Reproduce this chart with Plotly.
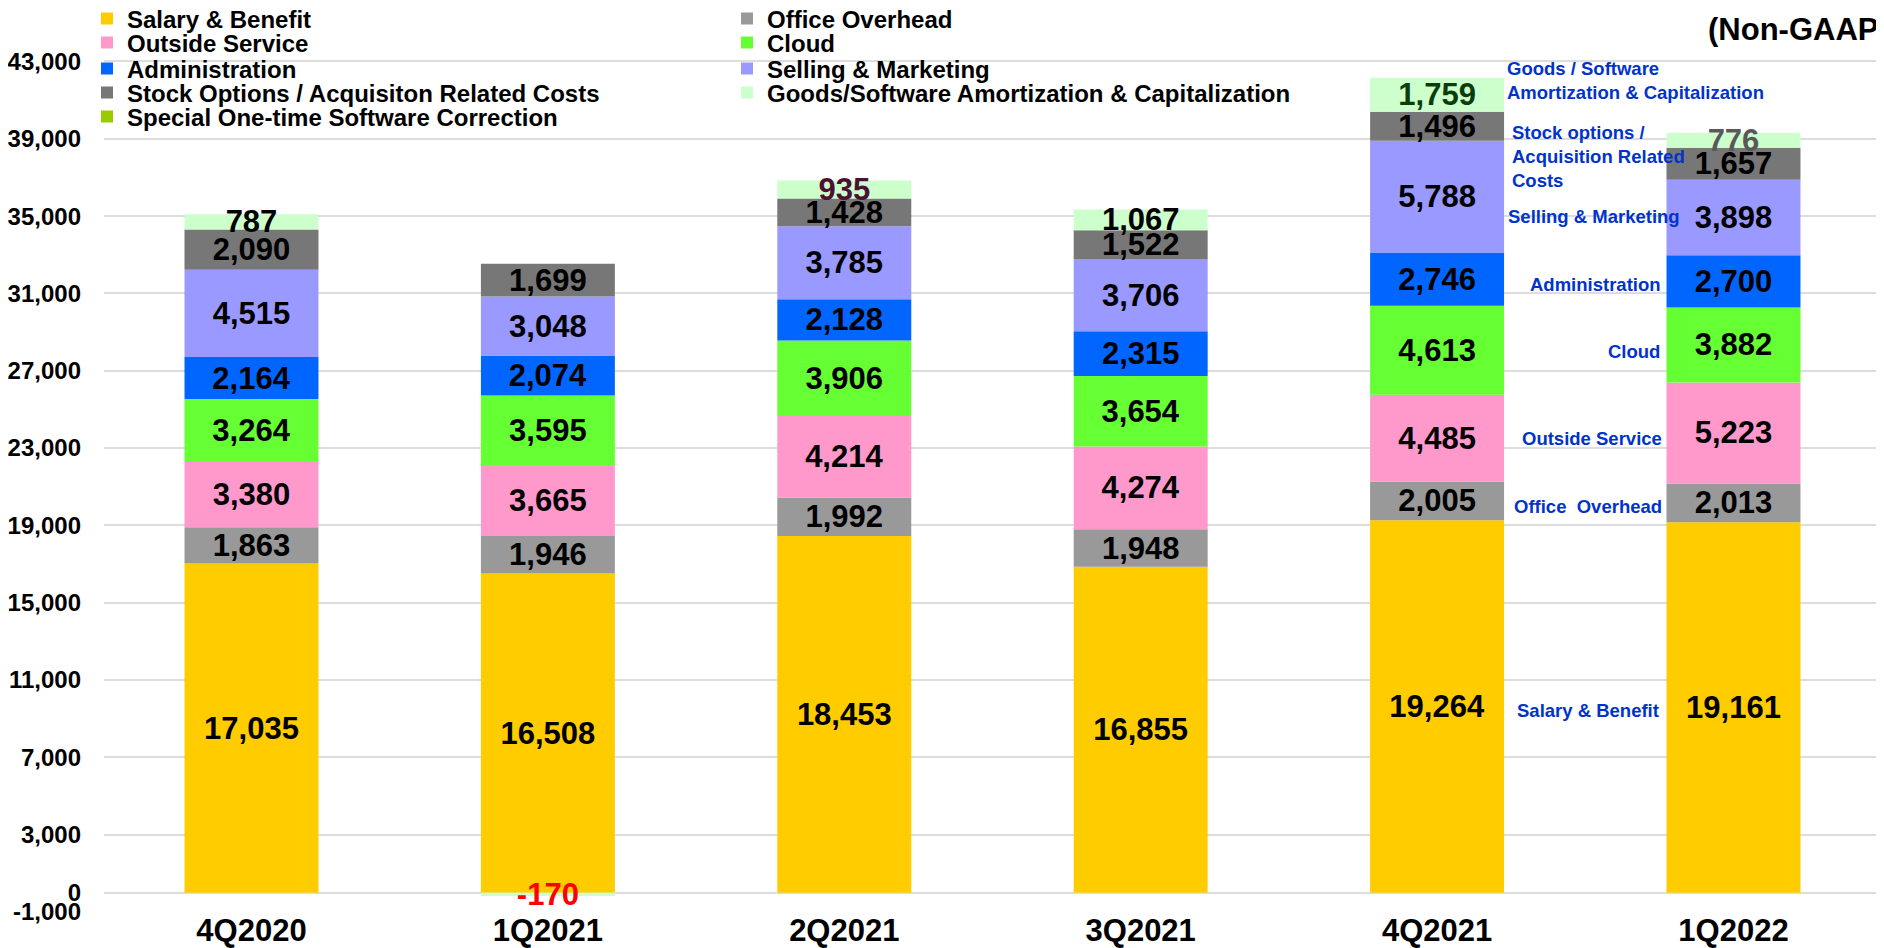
import plotly.graph_objects as go

# ---------------- data ----------------
categories = ["4Q2020", "1Q2021", "2Q2021", "3Q2021", "4Q2021", "1Q2022"]

salary_benefit = [17035, 16508, 18453, 16855, 19264, 19161]
office_overhead = [1863, 1946, 1992, 1948, 2005, 2013]
outside_service = [3380, 3665, 4214, 4274, 4485, 5223]
cloud = [3264, 3595, 3906, 3654, 4613, 3882]
administration = [2164, 2074, 2128, 2315, 2746, 2700]
selling_marketing = [4515, 3048, 3785, 3706, 5788, 3898]
stock_options = [2090, 1699, 1428, 1522, 1496, 1657]
goods_software = [787, -170, 935, 1067, 1759, 776]
special_correction = [None, None, None, None, None, None]

y_tick_values = [-1000, 0, 3000, 7000, 11000, 15000, 19000, 23000, 27000,
                 31000, 35000, 39000, 43000]

# ---------------- styling / layout constants ----------------
W, H = 1884, 948
PAGE_OFFSET = 8                 # default page margin around the figure
PLOT_L, PLOT_R, PLOT_T, PLOT_B = 96, 0, 0, 44
PLOT_W = W - PLOT_L - PLOT_R
PLOT_H = H - PLOT_T - PLOT_B
PX_PER_UNIT = 0.01933          # pixels per value unit
Y_MIN = -1000
Y_MAX = Y_MIN + PLOT_H / PX_PER_UNIT
X_RANGE = [-0.4976, 5.5348]
BAR_WIDTH = 0.452

FONT = "Liberation Sans, Arial, sans-serif"
BLUE = "#0033CC"


def paper_x(px):
    """screen px -> paper x"""
    return (px - PAGE_OFFSET - PLOT_L) / PLOT_W


def paper_y(py):
    """screen px -> paper y"""
    return 1 - (py - PAGE_OFFSET - PLOT_T) / PLOT_H


series = [
    ("Salary & Benefit", salary_benefit, "#FFCC00", "#000000"),
    ("Office Overhead", office_overhead, "#999999", "#000000"),
    ("Outside Service", outside_service, "#FF99CC", "#000000"),
    ("Cloud", cloud, "#66FF33", "#000000"),
    ("Administration", administration, "#0066FF", "#000000"),
    ("Selling & Marketing", selling_marketing, "#9999FF", "#000000"),
    ("Stock Options / Acquisiton Related Costs", stock_options, "#777777", "#000000"),
    ("Goods/Software Amortization & Capitalization", goods_software, "#CCFFCC",
     ["#000000", "#FF0000", "#4D1035", "#000000", "#0B3D0B", "#595959"]),
    ("Special One-time Software Correction", special_correction, "#99CC00", "#000000"),
]

# legend placement (screen pixel position of each legend item: left x, center y)
legend_pos = [
    (87, 19), (727, 19),
    (87, 43), (727, 43),
    (87, 69), (727, 69),
    (87, 93), (727, 93),
    (87, 117),
]

fig = go.Figure()
layout_legends = {}
for i, (name, vals, color, tcolor) in enumerate(series):
    lname = "legend" if i == 0 else f"legend{i + 1}"
    text = [("" if v is None else f"{v:,}") for v in vals]
    fig.add_trace(go.Bar(
        x=categories,
        y=vals,
        name=name,
        legend=lname,
        width=BAR_WIDTH,
        marker=dict(color=color, line=dict(width=0)),
        text=text,
        textposition="inside",
        insidetextanchor="middle",
        textangle=0,
        textfont=dict(family=FONT, size=31, color=tcolor, weight="bold"),
        hoverinfo="x+y+name",
    ))
    lx, ly = legend_pos[i]
    layout_legends[lname] = dict(
        xref="container", yref="container",
        x=(lx - PAGE_OFFSET) / W, y=1 - (ly - PAGE_OFFSET) / H,
        xanchor="left", yanchor="middle",
        bgcolor="rgba(0,0,0,0)",
        borderwidth=0,
        font=dict(family=FONT, size=24, color="#000000", weight="bold"),
        itemclick=False, itemdoubleclick=False,
    )

# right side series labels (screen px)
side_labels = [
    ("Goods / Software<br>Amortization & Capitalization", 1505, 80.5, "left"),
    ("Stock options /<br>Acquisition Related<br>Costs", 1510, 157, "left"),
    ("Selling & Marketing", 1506, 217, "left"),
    ("Administration", 1663, 285, "right"),
    ("Cloud", 1662, 351, "right"),
    ("Outside Service", 1664, 438, "right"),
    ("Office  Overhead", 1664, 506, "right"),
    ("Salary & Benefit", 1661, 710, "right"),
]
annotations = []
for txt, px, py, anchor in side_labels:
    annotations.append(dict(
        text=txt, xref="paper", yref="paper",
        x=paper_x(px), y=paper_y(py),
        xanchor=anchor, yanchor="middle", align="left",
        showarrow=False,
        font=dict(family=FONT, size=18.5, color=BLUE, weight="bold"),
    ))

annotations.append(dict(
    text="(Non-GAAP)", xref="paper", yref="paper",
    x=paper_x(1706), y=paper_y(30),
    xanchor="left", yanchor="middle", showarrow=False,
    font=dict(family=FONT, size=31, color="#000000", weight="bold"),
))

fig.update_layout(
    width=W, height=H,
    barmode="relative",
    plot_bgcolor="white",
    paper_bgcolor="white",
    margin=dict(l=PLOT_L, r=PLOT_R, t=PLOT_T, b=PLOT_B, pad=0, autoexpand=False),
    font=dict(family=FONT, color="#000000"),
    showlegend=True,
    uniformtext=dict(minsize=31, mode="show"),
    annotations=annotations,
    **layout_legends,
)

fig.update_xaxes(
    type="category",
    range=X_RANGE,
    showgrid=False,
    showline=False,
    zeroline=False,
    ticks="",
    tickangle=0,
    ticklabelstandoff=-3,
    tickfont=dict(family=FONT, size=31, color="#000000", weight="bold"),
    automargin=False,
)

fig.update_yaxes(
    range=[Y_MIN, Y_MAX],
    tickvals=y_tick_values,
    ticktext=[f"{v:,}" for v in y_tick_values],
    showgrid=True,
    gridcolor="#DDDDDD",
    gridwidth=2,
    zeroline=False,
    showline=False,
    ticks="",
    ticklabelstandoff=22,
    tickfont=dict(family=FONT, size=24, color="#000000", weight="bold"),
    automargin=False,
)

fig.write_html("out.html")
